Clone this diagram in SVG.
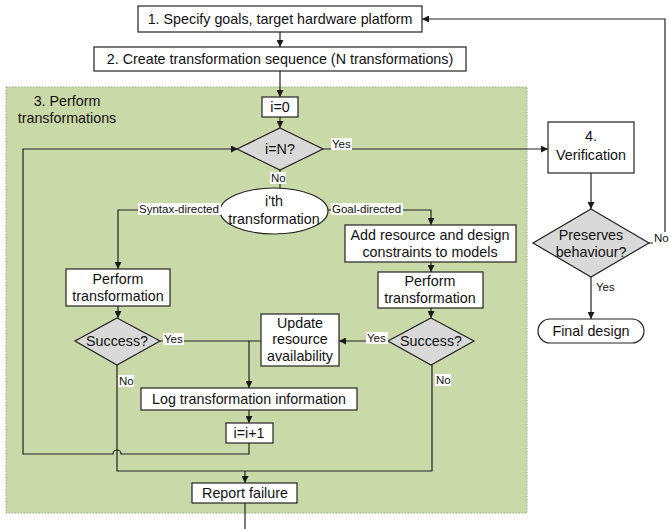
<svg xmlns="http://www.w3.org/2000/svg" width="669" height="529" viewBox="0 0 669 529">
<defs>
<marker id="ah" viewBox="0 0 10 10" refX="10" refY="5" markerWidth="7" markerHeight="7" markerUnits="userSpaceOnUse" orient="auto"><path d="M0,0 L10,5 L0,10 z" fill="#1a1a1a"/></marker>
<style>
text{font-family:"Liberation Sans",Arial,sans-serif;fill:#111;}
.t{font-size:14.3px;text-anchor:middle;}
.l{font-size:11.5px;}
.box{fill:#fff;stroke:#222;stroke-width:1.2;}
.dia{fill:#d9d9d9;stroke:#222;stroke-width:1.2;}
.lbg{fill:#fff;}
.c{fill:none;stroke:#222;stroke-width:1.2;}
.ca{fill:none;stroke:#222;stroke-width:1.2;marker-end:url(#ah);}
</style>
</defs>
<rect width="669" height="529" fill="#fff"/>
<g id="region3">
<rect x="6" y="87" width="521" height="426" fill="#cad9a8" stroke="#9aa68a" stroke-width="1" stroke-dasharray="1.5,1.5"/>
<text class="t" x="67" y="106">3. Perform</text>
<text class="t" x="67" y="123">transformations</text>
</g>
<g id="connectors">
<path class="ca" d="M280,32 V47"/>
<path class="ca" d="M280,71 V97"/>
<path class="ca" d="M280,117 V128"/>
<path class="ca" d="M323,149 H548"/>
<path class="c" d="M280,170 V188"/>
<path class="ca" d="M220,210 H118 V269"/>
<path class="ca" d="M328,210 H431 V225"/>
<path class="ca" d="M431,262 V272"/>
<path class="ca" d="M431,308 V318"/>
<path class="ca" d="M118,306 V318"/>
<path class="ca" d="M388,341 H339"/>
<path class="c" d="M160,341 H249"/>
<path class="ca" d="M261,341 H249 V388"/>
<path class="ca" d="M249,410 V423"/>
<path class="ca" d="M249,443 V454 H121 A4,4 0 0 0 113,454 H23 V149 H238"/>
<path class="c" d="M117,365 V471 H432 V365"/>
<path class="ca" d="M245,471 V483"/>
<path class="c" d="M245,503 V529"/>
<path class="ca" d="M591,173 V209"/>
<path class="ca" d="M591,277 V319"/>
<path class="ca" d="M649,243 H665 V19 H422"/>
</g>
<g id="n1"><rect class="box" x="138" y="6" width="284" height="26"/><text class="t" x="280" y="24">1. Specify goals, target hardware platform</text></g>
<g id="n2"><rect class="box" x="94" y="47" width="372" height="24"/><text class="t" x="280" y="64">2. Create transformation sequence (N transformations)</text></g>
<g id="n_i0"><rect class="box" x="262" y="97" width="36" height="20"/><text class="t" x="280" y="112">i=0</text></g>
<g id="n_iN"><polygon class="dia" points="280,128 323,149 280,170 237,149"/><text class="t" x="280" y="154">i=N?</text></g>
<g id="n_ith"><ellipse cx="274" cy="211" rx="54" ry="23" fill="#fff" stroke="#222" stroke-width="1.2"/><text class="t" x="274" y="206">i'th</text><text class="t" x="274" y="224">transformation</text></g>
<g id="n_perfL"><rect class="box" x="66" y="269" width="104" height="37"/><text class="t" x="118" y="284">Perform</text><text class="t" x="118" y="301">transformation</text></g>
<g id="n_add"><rect class="box" x="345" y="225" width="171" height="37"/><text class="t" x="430" y="240">Add resource and design</text><text class="t" x="430" y="257">constraints to models</text></g>
<g id="n_perfR"><rect class="box" x="378" y="272" width="105" height="36"/><text class="t" x="430" y="286">Perform</text><text class="t" x="430" y="303">transformation</text></g>
<g id="n_succL"><polygon class="dia" points="117,318 160,341 117,365 75,341"/><text class="t" x="117" y="346">Success?</text></g>
<g id="n_succR"><polygon class="dia" points="431,318 474,341 431,365 388,341"/><text class="t" x="431" y="346">Success?</text></g>
<g id="n_update"><rect class="box" x="261" y="314" width="78" height="52"/><text class="t" x="300" y="328">Update</text><text class="t" x="300" y="344">resource</text><text class="t" x="300" y="361">availability</text></g>
<g id="n_log"><rect class="box" x="141" y="388" width="216" height="22"/><text class="t" x="249" y="404">Log transformation information</text></g>
<g id="n_inc"><rect class="box" x="226" y="423" width="47" height="20"/><text class="t" x="249" y="438">i=i+1</text></g>
<g id="n_fail"><rect class="box" x="192" y="483" width="105" height="20"/><text class="t" x="245" y="498">Report failure</text></g>
<g id="n_ver"><rect class="box" x="548" y="122" width="86" height="51"/><text class="t" x="591" y="141">4.</text><text class="t" x="591" y="160">Verification</text></g>
<g id="n_pres"><polygon class="dia" points="591,209 649,243 591,277 533,243"/><text class="t" x="591" y="240">Preserves</text><text class="t" x="591" y="257">behaviour?</text></g>
<g id="n_final"><rect class="box" x="538" y="319" width="106" height="24" rx="12" ry="12"/><text class="t" x="591" y="336">Final design</text></g>
<g id="labels">
<rect class="lbg" x="331" y="138" width="21" height="12"/><text class="l" x="332" y="148">Yes</text>
<rect class="lbg" x="270" y="172" width="16" height="12"/><text class="l" x="271" y="182">No</text>
<rect class="lbg" x="138" y="203" width="83" height="12"/><text class="l" x="139" y="213">Syntax-directed</text>
<rect class="lbg" x="331" y="203" width="72" height="12"/><text class="l" x="332" y="213">Goal-directed</text>
<rect class="lbg" x="163" y="333" width="21" height="12"/><text class="l" x="164" y="343">Yes</text>
<rect class="lbg" x="366" y="332" width="22" height="12"/><text class="l" x="367" y="342">Yes</text>
<rect class="lbg" x="118" y="375" width="16" height="12"/><text class="l" x="119" y="385">No</text>
<rect class="lbg" x="435" y="374" width="16" height="12"/><text class="l" x="436" y="384">No</text>
<rect class="lbg" x="653" y="232" width="16" height="12"/><text class="l" x="654" y="242">No</text>
<text class="l" x="596" y="291">Yes</text>
</g>
</svg>
